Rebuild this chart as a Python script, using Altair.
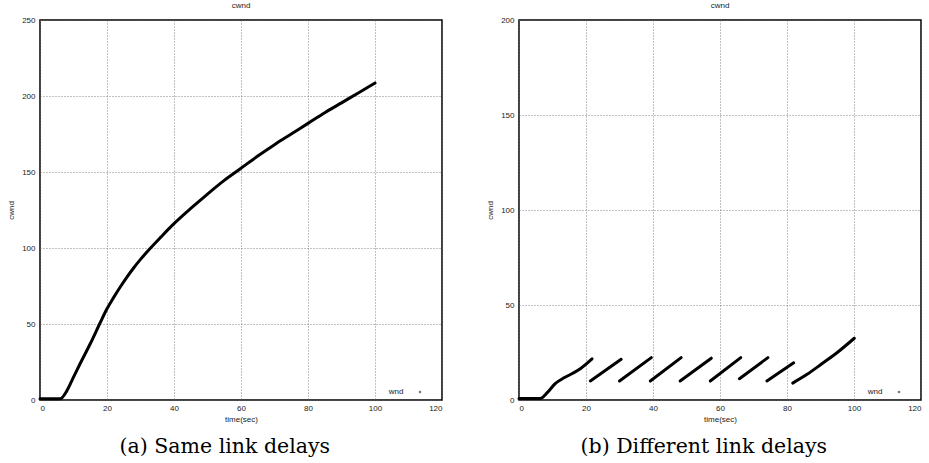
import altair as alt
import pandas as pd

# (a) Same link delays
a_time = [0, 2, 4, 6, 8, 10, 12, 15, 18, 20, 22, 24, 26, 28, 30, 33, 36, 40,
          45, 50, 55, 60, 65, 70, 75, 80, 85, 90, 95, 100]
a_cwnd = [0.8, 0.8, 0.8, 0.8, 6, 15, 24, 37, 51, 60, 67.5, 74.5, 81, 87, 92.5,
          100, 107, 116, 126, 135.5, 144.5, 152.5, 160.5, 168, 175, 182, 189,
          195.5, 202, 208.5]

# (b) Different link delays (segments separated by window drops)
b_time = [0, 6.3, 8.5, 10.8, 13.6, 17.6, 21.8,
          21.3, 30.5,
          30.0, 39.5,
          39.2, 48.4,
          48.1, 57.4,
          57.1, 66.2,
          65.8, 74.3,
          74.0, 82.0,
          81.7, 86, 90.2, 95, 100.1]
b_cwnd = [0.8, 0.8, 4, 8.6, 11.8, 15.6, 21.7,
          10, 21.4,
          10, 22.3,
          10, 22.3,
          10, 22,
          10, 22.3,
          11.2, 22.3,
          10, 19.6,
          8.9, 13.5, 18.8, 25, 32.5]
b_seg = [0, 0, 0, 0, 0, 0, 0,
         1, 1,
         2, 2,
         3, 3,
         4, 4,
         5, 5,
         6, 6,
         7, 7,
         8, 8, 8, 8, 8]

x_ticks = [0, 20, 40, 60, 80, 100, 120]
a_y_ticks = [0, 50, 100, 150, 200, 250]
b_y_ticks = [0, 50, 100, 150, 200]

df_a = pd.DataFrame({"time": a_time, "cwnd": a_cwnd, "seg": [0] * len(a_time)})
df_b = pd.DataFrame({"time": b_time, "cwnd": b_cwnd, "seg": b_seg})

W, H = 402, 380
FONT = "Liberation Sans"


def panel(df, ymax, yticks, caption):
    x = alt.X("time:Q", scale=alt.Scale(domain=[0, 120], nice=False),
              axis=alt.Axis(values=x_ticks, title="time(sec)"))
    y = alt.Y("cwnd:Q", scale=alt.Scale(domain=[0, ymax], nice=False),
              axis=alt.Axis(values=yticks, title="cwnd"))
    line = alt.Chart(df).mark_line(color="black", strokeWidth=3,
                                   strokeCap="round", strokeJoin="round",
                                   interpolate="monotone").encode(
        x=x, y=y, detail="seg:N")
    leg_text = alt.Chart(pd.DataFrame({"t": ["wnd"]})).mark_text(
        font=FONT, fontSize=8, color="#222", align="center", baseline="middle"
    ).encode(x=alt.value(W - 46), y=alt.value(H - 8), text="t:N")
    leg_pt = alt.Chart(pd.DataFrame({"t": ["wnd"]})).mark_point(
        shape="cross", size=6, color="black", filled=True
    ).encode(x=alt.value(W - 22), y=alt.value(H - 8))
    inner = alt.layer(line, leg_text, leg_pt).properties(
        width=W, height=H,
        title=alt.TitleParams("cwnd", fontSize=8, font=FONT, fontWeight="normal",
                              color="#222", offset=6))
    return alt.vconcat(inner).properties(
        title=alt.TitleParams(caption, orient="bottom", anchor="middle",
                              font="DejaVu Serif",
                              fontSize=20.5, fontWeight="normal", color="black",
                              offset=13))


left = panel(df_a, 250, a_y_ticks, "(a) Same link delays")
right = panel(df_b, 200, b_y_ticks, "(b) Different link delays")

chart = alt.hconcat(left, right, spacing=42).properties(
    padding={"left": 6, "top": 1, "right": 4, "bottom": 0}
).configure_view(
    stroke="black", strokeWidth=1.5
).configure_axis(
    grid=True, gridColor="#666", gridDash=[1, 2], gridWidth=0.8,
    ticks=False, domain=False,
    labelFont=FONT, labelFontSize=8, labelColor="#222", labelPadding=5,
    titleFont=FONT, titleFontSize=8, titleFontWeight="normal", titleColor="#222",
    titlePadding=6
).configure_axisX(labelPadding=4, titlePadding=3).configure_concat(spacing=0)

chart.save("out.html", embed_options={"renderer": "svg", "actions": False})
